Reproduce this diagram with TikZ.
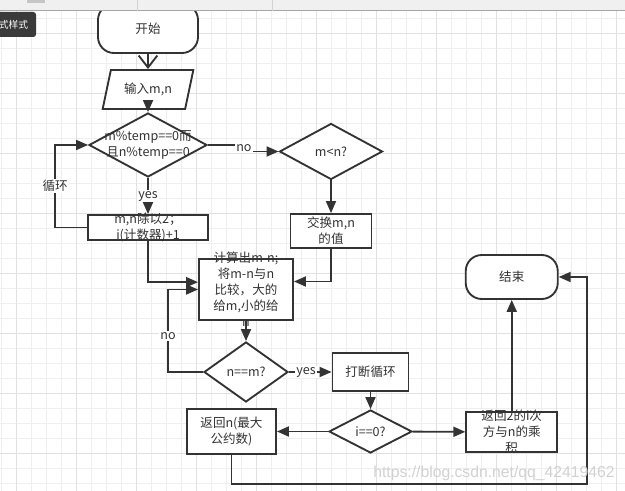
\documentclass[tikz,border=0pt]{standalone}
\usepackage{fontspec}
\setmainfont{Noto Sans CJK SC}
\newfontfamily\wmfont{Liberation Sans}
\usetikzlibrary{shapes.geometric,arrows.meta}

\definecolor{ink}{HTML}{333333}
\definecolor{gridmin}{HTML}{EFEFEF}
\definecolor{gridmaj}{HTML}{E1E1E1}
\definecolor{barbg}{HTML}{F0F0F0}
\definecolor{tipbg}{HTML}{3A3A3A}

\tikzset{
  outline/.style={draw=ink, line width=1.4pt, fill=white},
  term/.style 2 args={outline, rounded corners=12pt, minimum width=#1, minimum height=#2},
  io/.style 2 args={outline, trapezium, trapezium left angle=74, trapezium right angle=106,
    trapezium stretches=true, minimum width=#1, minimum height=#2},
  cond/.style 2 args={outline, diamond, inner sep=0pt, minimum width=#1, minimum height=#2},
  proc/.style 2 args={outline, align=center, inner sep=0pt, minimum width=#1, minimum height=#2},
  txt/.style={align=center, inner sep=0pt},
  inlabel/.style={label={[txt]center:{#1}}},
  flow/.style={draw=ink, line width=1.4pt, -{Triangle[length=9pt,width=7.5pt]}},
  openflow/.style={draw=ink, line width=1.4pt, -{Straight Barb[length=9pt,width=14pt]}},
  lab/.style={fill=white, inner sep=1pt},
  gridline/.style={draw=#1, line width=0.75pt}
}

\begin{document}
\begin{tikzpicture}[x=0.75pt, y=-0.75pt,
  every node/.style={font=\fontsize{9.4}{12}\selectfont, text=ink}]
	\useasboundingbox (0,0) rectangle (625,491);
	
	% grid
	\foreach \x in {1.7,16.7,...,625} \draw[gridline=gridmin] (\x,0) -- (\x,491);
	\foreach \y in {3.3,18.3,...,491} \draw[gridline=gridmin] (0,\y) -- (625,\y);
	\foreach \x in {16.7,76.7,...,625} \draw[gridline=gridmaj] (\x,0) -- (\x,491);
	\foreach \y in {33.3,93.3,...,491} \draw[gridline=gridmaj] (0,\y) -- (625,\y);
	
	% shapes
	\node[term={75pt}{36.75pt}] (start) at (148,28.5) {开始};
	\node[io={68.25pt}{29.25pt}] (in) at (148,89.5) {输入m,n};
	\node[cond={88.5pt}{48pt}, inlabel={m\%temp==0而\\且n\%temp==0}] (d1) at (148,145) {};
	\node[cond={77.25pt}{42pt}, inlabel={m<n?}] (d2) at (331,151.5) {};
	\node[proc={60.75pt}{25.5pt}] (swap) at (331,231) {交换m,n\\的值};
	\node[proc={90pt}{18.75pt}, inlabel={m,n除以2；\\i(计数器)+1}] (div) at (148,227.5) {};
	\node[proc={70.5pt}{45.75pt}, inlabel={计算出m-n;\\将m-n与n\\比较，大的\\给m,小的给\\n}] (calc) at (246,289.5) {};
	\node[cond={63pt}{45pt}, inlabel={n==m?}] (d3) at (246,372) {};
	\node[proc={57pt}{28.5pt}] (brk) at (370.5,372) {打断循环};
	\node[cond={62.25pt}{32.25pt}, inlabel={i==0?}] (d4) at (370.5,431.5) {};
	\node[proc={66.75pt}{33.75pt}] (retn) at (231.5,431.5) {返回n(最大\\公约数)};
	\node[proc={68.25pt}{30pt}, inlabel={返回2的i次\\方与n的乘\\积}] (ret2) at (511.75,432) {};
	\node[term={69pt}{33pt}] (end) at (511.75,277) {结束};
	\coordinate (rb) at (587,484);
	
	% connectors
	\draw[openflow] (start) -- (in);
	\draw[flow] (in) -- (d1);
	\draw[flow] (d1.east) -- ++(36,0) |- node[lab, pos=0.25] {no} (d2.west);
	\draw[flow] (d1) -- node[lab] {yes} (div);
	\draw[flow] (div.west) -- ++(-32,0) |- node[lab, pos=0.25] {循环} (d1.west);
	\draw[flow] (d2) -- (swap);
	\draw[flow] (div.south) |- ([yshift=5.5pt]calc.west);
	\draw[flow] (swap.south) |- ([yshift=6pt]calc.east);
	\draw[flow] (calc) -- (d3);
	\draw[flow] (d3.west) -- ++(-35,0) |- node[lab, pos=0.22] {no} (calc.west);
	\draw[flow] (d3) -- node[lab, pos=0.4] {yes} (brk);
	\draw[flow] (brk) -- (d4);
	\draw[flow] (d4) -- (retn);
	\draw[flow] (d4) -- (ret2);
	\draw[flow] (ret2) -- (end);
	\draw[flow] (retn.south) |- (rb) |- (end.east);
	
	% editor bar and tooltip
	\fill[barbg] (0,0) rectangle (625,11);
	\draw[gray!70, line width=0.75pt] (0,11) -- (625,11);
	\draw[gray!35, line width=0.75pt] (137,0) -- (137,11);
	\draw[gray!35, line width=0.75pt] (272,0) -- (272,11);
	\fill[gray!45] (27,0) rectangle (45,3);
	\fill[tipbg, rounded corners=2pt] (-4,12) rectangle (36,37);
	\node[text=white, font=\fontsize{7.3}{9}\selectfont] (tip) at (13.5,24.5) {式样式};
	
	% watermark
	\node[text=black!18, font=\wmfont\fontsize{11.8}{14}\selectfont] (wm) at (494,473) {https://blog.csdn.net/qq\_42419462};
\end{tikzpicture}
\end{document}
